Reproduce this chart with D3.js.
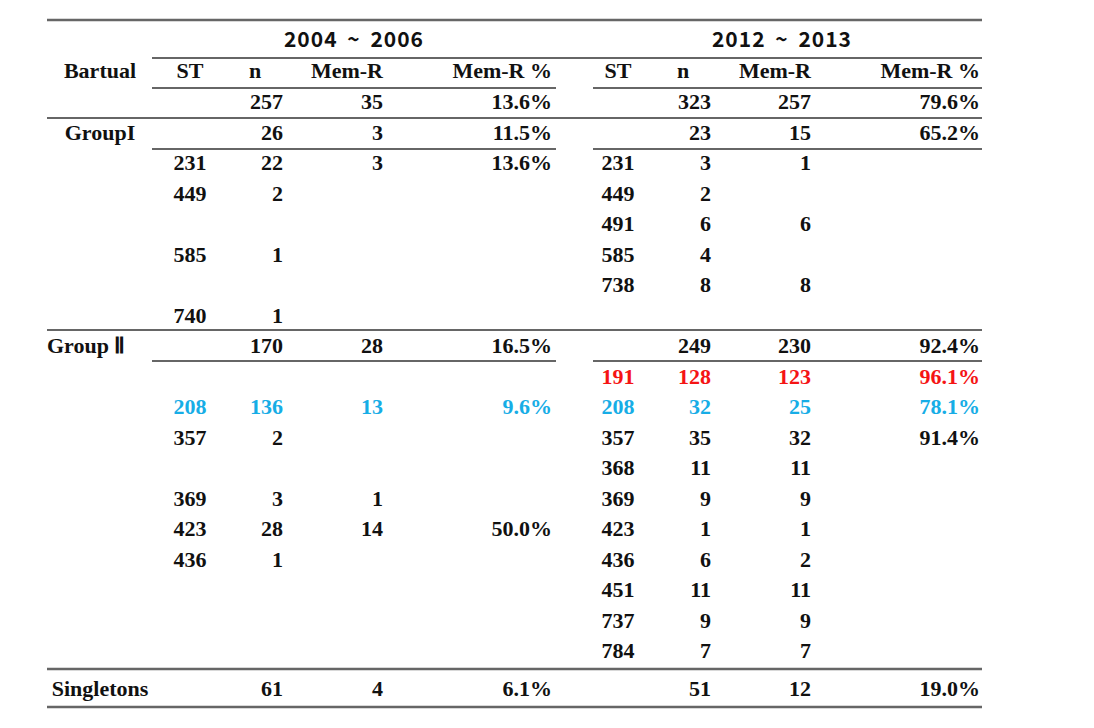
<!DOCTYPE html>
<html>
<head>
<meta charset="utf-8">
<script src="https://cdn.jsdelivr.net/npm/d3@7"></script>
<style>
  body { margin: 0; background: #fff; }
  svg text { font-family: "Liberation Serif", "Times New Roman", serif; font-weight: bold; font-size: 22px; fill: #111; }
  svg text.period { font-family: "Noto Sans CJK KR", "Noto Sans", sans-serif; font-weight: bold; font-size: 21px; letter-spacing: 1px; word-spacing: 4px; }
</style>
</head>
<body>
<div id="table"></div>
<script>
// Data
var periods = ["2004 ~ 2006", "2012 ~ 2013"];
var colHeads = ["ST", "n", "Mem-R", "Mem-R %"];
var rowKeys = ["total", "GroupI", "231", "449", "491", "585", "738", "740",
               "GroupII", "191", "208", "357", "368", "369", "423", "436", "451", "737", "784"];

var summaryRows = ["total", "GroupI", "GroupII", "Singletons"];
var summaryLabels = ["", "GroupI", "Group \u2161", "Singletons"];
var summaryN = [[257, 26, 170, 61], [323, 23, 249, 51]];
var summaryMemR = [[35, 3, 28, 4], [257, 15, 230, 12]];
var summaryPct = [["13.6%", "11.5%", "16.5%", "6.1%"], ["79.6%", "65.2%", "92.4%", "19.0%"]];

var st2004 = ["231", "449", "585", "740", "208", "357", "369", "423", "436"];
var n2004 = [22, 2, 1, 1, 136, 2, 3, 28, 1];
var memR2004 = [3, null, null, null, 13, null, 1, 14, null];
var pct2004 = ["13.6%", "", "", "", "9.6%", "", "", "50.0%", ""];

var st2012 = ["231", "449", "491", "585", "738", "191", "208", "357", "368", "369", "423", "436", "451", "737", "784"];
var n2012 = [3, 2, 6, 4, 8, 128, 32, 35, 11, 9, 1, 6, 11, 9, 7];
var memR2012 = [1, null, 6, null, 8, 123, 25, 32, 11, 9, 1, 2, 11, 9, 7];
var pct2012 = ["", "", "", "", "", "96.1%", "78.1%", "91.4%", "", "", "", "", "", "", ""];

var highlight = {"191": "#f51414", "208": "#17ade6"};

var width = 1094, height = 728;

var svg = d3.select("#table").append("svg")
    .attr("width", width)
    .attr("height", height);

svg.append("rect").attr("width", width).attr("height", height).attr("fill", "#fff");

// Row baselines
var y = d3.scalePoint().domain(rowKeys).range([109, 658]);
function rowY(k) { return k === "Singletons" ? 696 : y(k); }

// Column positions (left block, right block shifted)
var blockX = d3.scaleOrdinal().domain(periods).range([0, 428]);
var colX = {ST: 190, nHead: 255, n: 283, memR: 383, pct: 552};
var segments = [[152, 556], [593, 982]];

// Rules
var rules = [
  {y: 20, x0: 47, x1: 982, w: 2.5},
  {y: 58, x0: 152, x1: 982, w: 2},
  {y: 118, x0: 47, x1: 982, w: 2},
  {y: 330, x0: 47, x1: 982, w: 2},
  {y: 669, x0: 47, x1: 982, w: 2.5},
  {y: 707, x0: 47, x1: 982, w: 2.5}
];
[88, 149, 361].forEach(function(yy) {
  segments.forEach(function(s) { rules.push({y: yy, x0: s[0], x1: s[1], w: 2}); });
});

svg.selectAll("line.rule")
    .data(rules)
  .enter().append("line")
    .attr("class", "rule")
    .attr("x1", function(d) { return d.x0; })
    .attr("x2", function(d) { return d.x1; })
    .attr("y1", function(d) { return d.y; })
    .attr("y2", function(d) { return d.y; })
    .attr("stroke", "#666")
    .attr("stroke-width", function(d) { return d.w; });

// Period headers
svg.selectAll("text.period")
    .data(periods)
  .enter().append("text")
    .attr("class", "period")
    .attr("x", function(d) { return 354 + blockX(d); })
    .attr("y", 47)
    .attr("text-anchor", "middle")
    .text(function(d) { return d; });

// Row header column
svg.append("text").attr("x", 100).attr("y", 78).attr("text-anchor", "middle").text("Bartual");
svg.selectAll("text.rowlabel")
    .data(summaryRows.slice(1))
  .enter().append("text")
    .attr("class", "rowlabel")
    .attr("x", function(d) { return d === "GroupII" ? 47 : 100; })
    .attr("y", function(d) { return rowY(d); })
    .attr("text-anchor", function(d) { return d === "GroupII" ? "start" : "middle"; })
    .text(function(d, i) { return summaryLabels[i + 1]; });

// Column headers
periods.forEach(function(p) {
  var dx = blockX(p);
  var anchors = [["ST", colX.ST, "middle"], ["n", colX.nHead, "middle"], ["Mem-R", colX.memR, "end"], ["Mem-R %", colX.pct, "end"]];
  svg.append("g").selectAll("text")
      .data(anchors)
    .enter().append("text")
      .attr("x", function(d) { return d[1] + dx; })
      .attr("y", 78)
      .attr("text-anchor", function(d) { return d[2]; })
      .text(function(d, i) { return colHeads[i]; });
});

function drawCells(p, keys, ns, ms, ps, showSt) {
  var dx = blockX(p);
  var rows = keys.map(function(k, i) {
    return {key: k, n: ns[i], m: ms[i], pct: ps[i]};
  });
  var g = svg.append("g").selectAll("g")
      .data(rows)
    .enter().append("g")
      .attr("transform", function(d) { return "translate(" + dx + "," + rowY(d.key) + ")"; })
      .style("fill", function(d) { return highlight[d.key] || "#111"; });
  if (showSt) {
    g.append("text").attr("x", colX.ST).attr("text-anchor", "middle")
      .style("fill", "inherit").text(function(d) { return d.key; });
  }
  g.append("text").attr("x", colX.n).attr("text-anchor", "end")
    .style("fill", "inherit").text(function(d) { return d.n == null ? "" : d.n; });
  g.append("text").attr("x", colX.memR).attr("text-anchor", "end")
    .style("fill", "inherit").text(function(d) { return d.m == null ? "" : d.m; });
  g.append("text").attr("x", colX.pct).attr("text-anchor", "end")
    .style("fill", "inherit").text(function(d) { return d.pct; });
}

drawCells(periods[0], summaryRows, summaryN[0], summaryMemR[0], summaryPct[0], false);
drawCells(periods[1], summaryRows, summaryN[1], summaryMemR[1], summaryPct[1], false);
drawCells(periods[0], st2004, n2004, memR2004, pct2004, true);
drawCells(periods[1], st2012, n2012, memR2012, pct2012, true);
</script>
</body>
</html>
